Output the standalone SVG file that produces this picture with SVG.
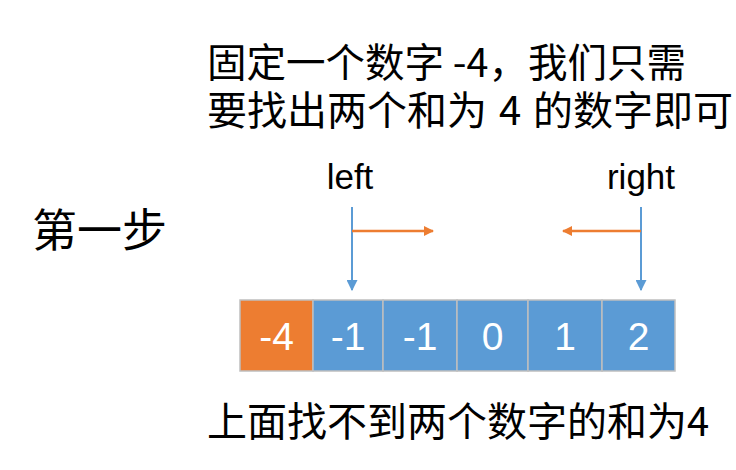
<svg xmlns="http://www.w3.org/2000/svg" width="736" height="470" viewBox="0 0 736 470">
<style>
.cjk{font-family:"Noto Sans CJK SC","Liberation Sans",sans-serif;fill:#000}
.lat{font-family:"Liberation Sans","Noto Sans",sans-serif;fill:#000}
.num{font-family:"Liberation Sans","Noto Sans",sans-serif;fill:#fff;font-size:39px;text-anchor:middle}
.cell{stroke:#BFBFBF;stroke-width:1.5}
.blue{fill:#5B9BD5}
.orange{fill:#ED7D31}
.vb{stroke:#5B9BD5;stroke-width:2;fill:none}
.ho{stroke:#ED7D31;stroke-width:2.5;fill:none}
</style>
<defs>
<marker id="ab" viewBox="0 0 10 10" refX="9" refY="5" markerWidth="5.5" markerHeight="5.5" orient="auto" markerUnits="strokeWidth"><path d="M0,0 L10,5 L0,10 z" fill="#5B9BD5"/></marker>
<marker id="ao" viewBox="0 0 10 10" refX="9" refY="5" markerWidth="4" markerHeight="4" orient="auto" markerUnits="strokeWidth"><path d="M0,0 L10,5 L0,10 z" fill="#ED7D31"/></marker>
</defs>
<rect width="736" height="470" fill="#fff"/>
<g id="title">
<text class="cjk"><tspan x="207" y="77" font-size="39.5">固定一个数字 -4，我们只需</tspan><tspan x="207" y="125" font-size="40" word-spacing="3">要找出两个和为 4 的数字即可</tspan></text>
</g>
<g id="step"><text class="cjk" x="32" y="247" font-size="45">第一步</text></g>
<g id="label-left"><text class="lat" x="350" y="189" font-size="35" text-anchor="middle">left</text></g>
<g id="label-right"><text class="lat" x="641" y="189" font-size="35" text-anchor="middle">right</text></g>
<g id="connectors">
<line class="vb" x1="352" y1="207" x2="352" y2="290" marker-end="url(#ab)"/>
<line class="vb" x1="641" y1="207" x2="641" y2="290" marker-end="url(#ab)"/>
<line class="ho" x1="352" y1="231" x2="433" y2="231" marker-end="url(#ao)"/>
<line class="ho" x1="641" y1="231" x2="563" y2="231" marker-end="url(#ao)"/>
</g>
<g id="cell0"><rect class="cell orange" x="240" y="300" width="73" height="71"/><text class="num" x="276.5" y="350">-4</text></g>
<g id="cell1"><rect class="cell blue" x="313" y="300" width="70" height="71"/><text class="num" x="348" y="350">-1</text></g>
<g id="cell2"><rect class="cell blue" x="383" y="300" width="74" height="71"/><text class="num" x="420" y="350">-1</text></g>
<g id="cell3"><rect class="cell blue" x="457" y="300" width="71" height="71"/><text class="num" x="492.5" y="350">0</text></g>
<g id="cell4"><rect class="cell blue" x="528" y="300" width="74" height="71"/><text class="num" x="565" y="350">1</text></g>
<g id="cell5"><rect class="cell blue" x="602" y="300" width="73" height="71"/><text class="num" x="638.5" y="350">2</text></g>
<g id="bottom"><text class="cjk" x="207" y="436" font-size="40">上面找不到两个数字的和为4</text></g>
</svg>
